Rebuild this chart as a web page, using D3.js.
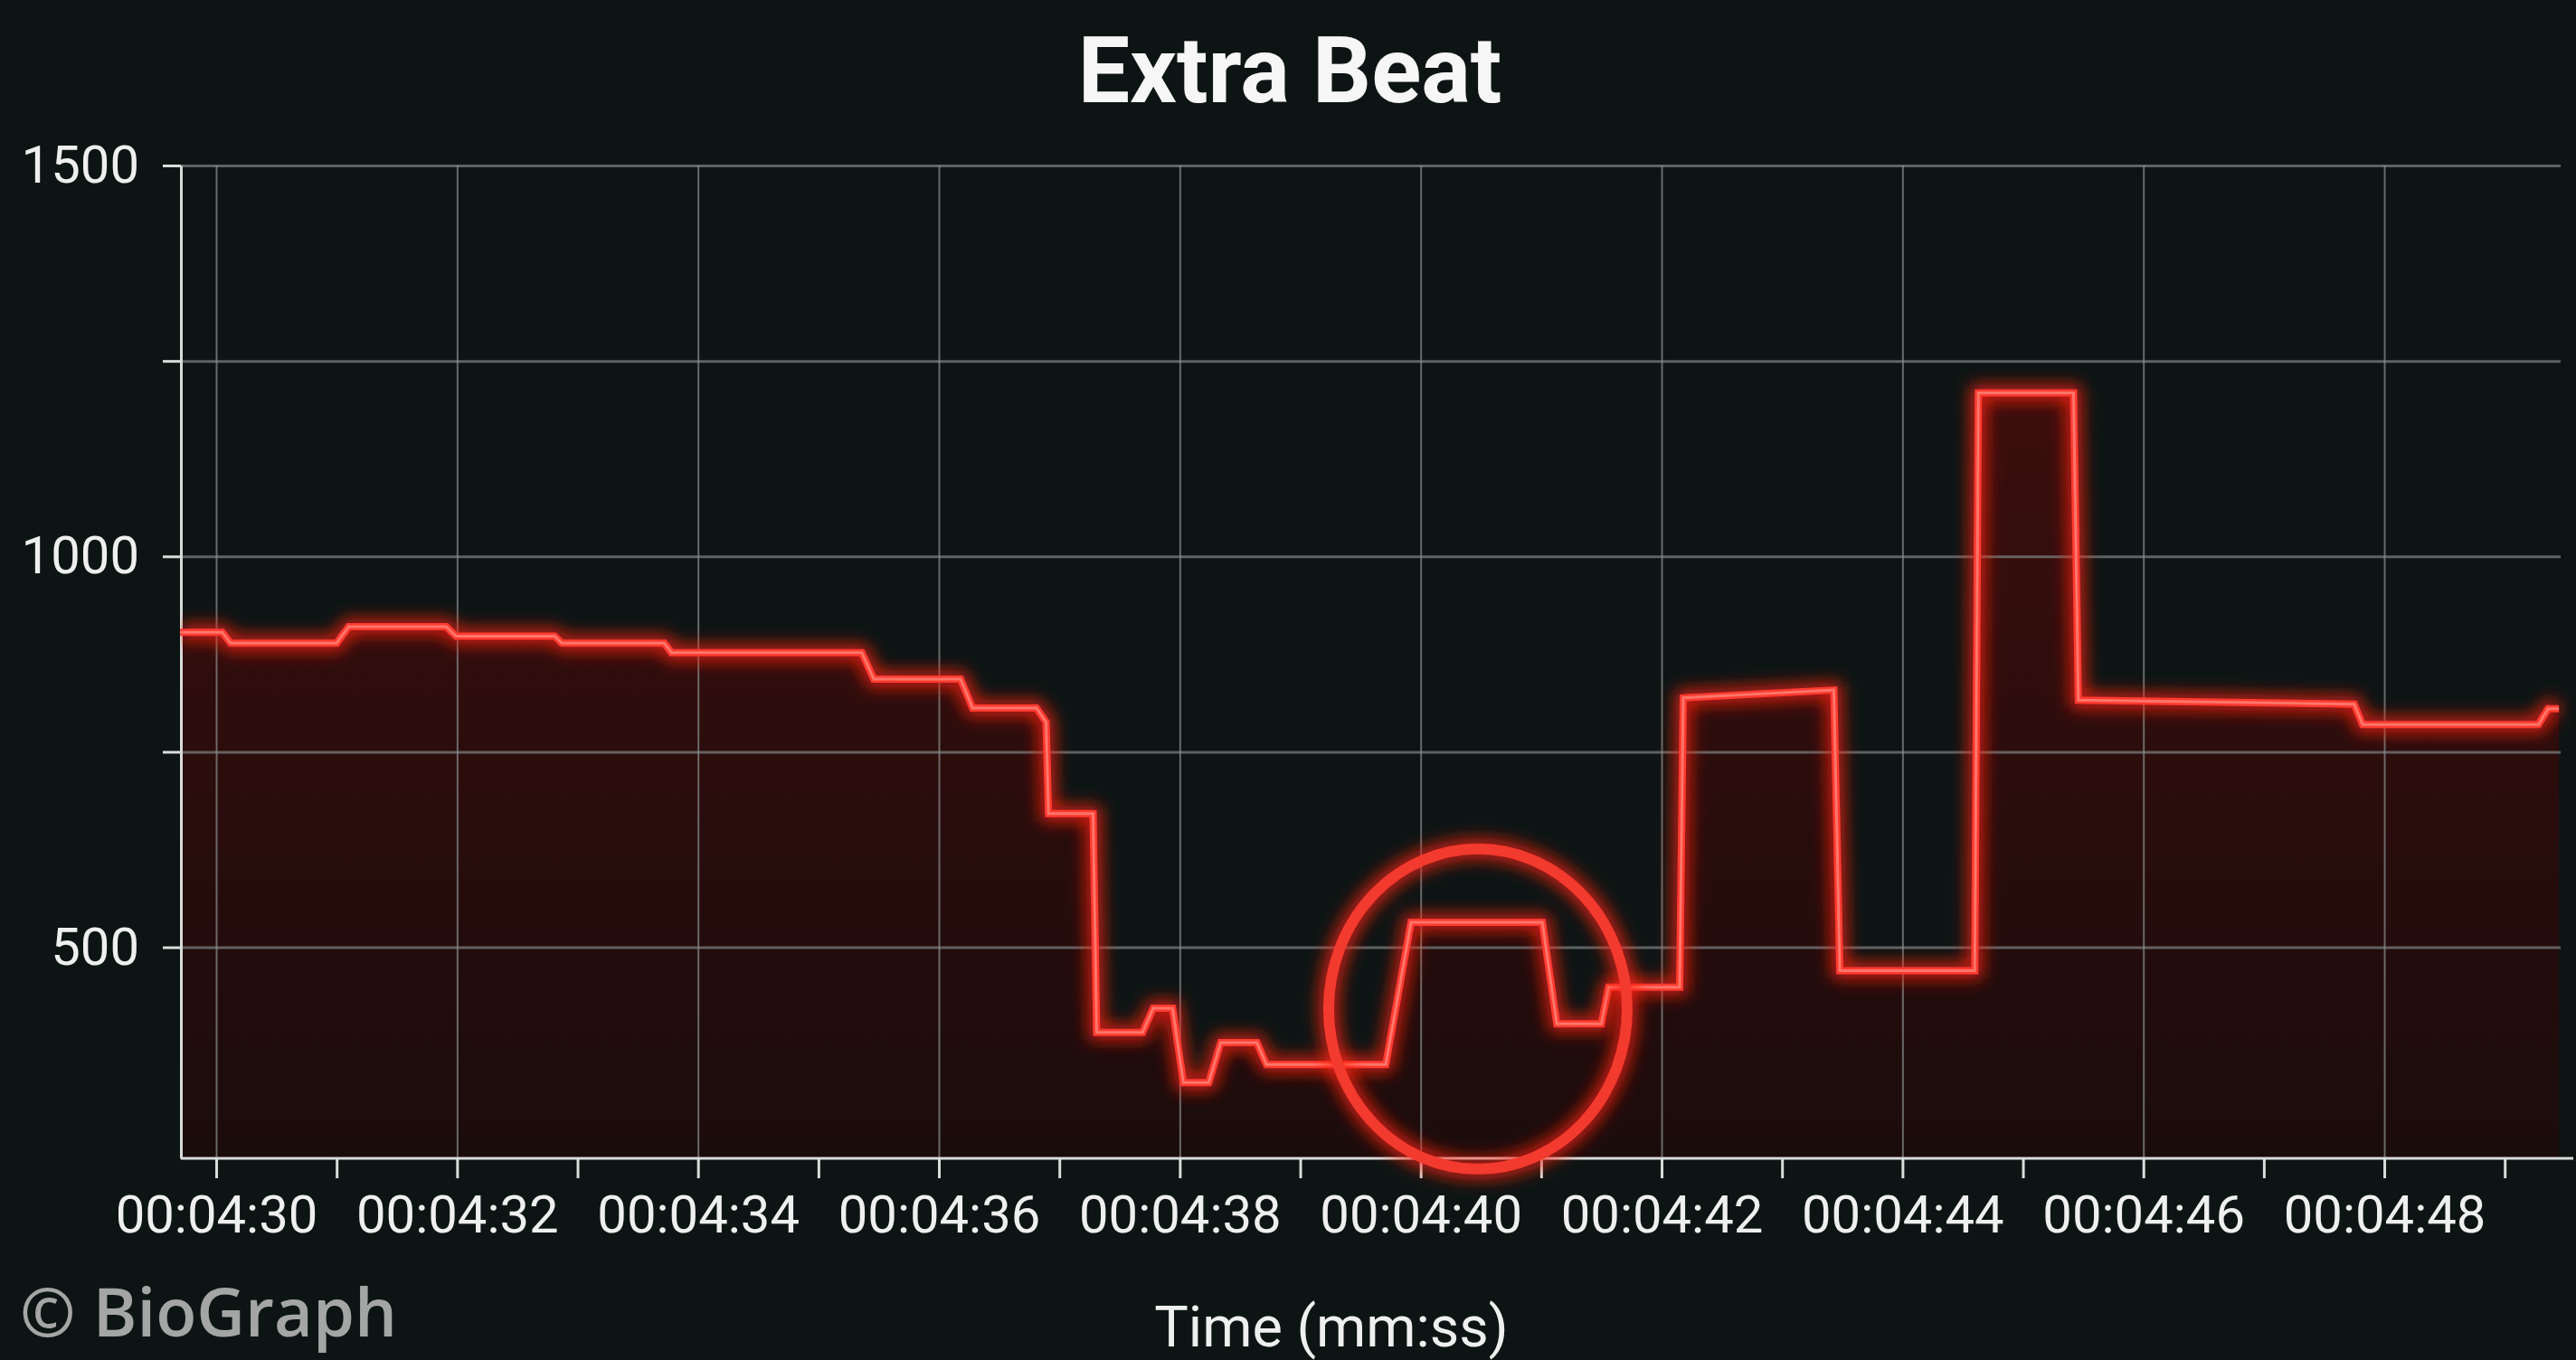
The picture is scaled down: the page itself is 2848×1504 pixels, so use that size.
<!DOCTYPE html>
<html>
<head>
<meta charset="utf-8">
<script src="https://cdn.jsdelivr.net/npm/d3@7"></script>
<style>
  html, body { margin: 0; padding: 0; background: #0b1513; }
  svg { display: block; }
</style>
</head>
<body>
<div id="chart"></div>
<script>
// RR trace: vertex times (seconds inside minute 00:04) and values
const times = [29.70, 30.05, 30.12, 31.00, 31.10, 31.91, 31.99, 32.81, 32.87, 33.72,
  33.78, 35.36, 35.46, 36.18, 36.28, 36.81, 36.89, 36.91, 37.28, 37.31,
  37.69, 37.78, 37.94, 38.03, 38.24, 38.34, 38.64, 38.72, 39.71, 39.92,
  41.01, 41.13, 41.50, 41.56, 42.15, 42.18, 43.43, 43.48, 44.60, 44.63,
  45.42, 45.46, 47.75, 47.82, 49.28, 49.36, 49.45];
const rrValues = [903, 903, 889, 889, 910, 910, 898, 898, 889, 889,
  877, 877, 843, 843, 806, 806, 788, 671, 671, 391,
  391, 422, 422, 327, 327, 378, 378, 350, 350, 532,
  532, 402, 402, 449, 449, 819, 829, 470, 470, 1209,
  1209, 816, 811, 785, 785, 805, 805];

const xTicks = d3.range(30, 50);
const xGridTicks = d3.range(30, 50, 2);
const yTicks = [500, 750, 1000, 1250, 1500];
const yLabels = [500, 1000, 1500];

// highlighted extra beat (centre in data units)
const marker = { t: 40.475, v: 421 };

const W = 2848, H = 1504;
const margin = { top: 183, right: 17, bottom: 223, left: 200 };
const width = W - margin.left - margin.right;
const height = H - margin.top - margin.bottom;

const svg = d3.select("#chart").append("svg")
    .attr("width", W)
    .attr("height", H);

svg.append("rect").attr("width", W).attr("height", H).attr("fill", "#0c1514");

const defs = svg.append("defs");
const glow = defs.append("filter")
    .attr("id", "glow")
    .attr("filterUnits", "userSpaceOnUse")
    .attr("x", 0).attr("y", 0).attr("width", W).attr("height", H);
glow.append("feGaussianBlur").attr("stdDeviation", 9);

const grad = defs.append("linearGradient")
    .attr("id", "fillGrad")
    .attr("x1", 0).attr("y1", 0).attr("x2", 0).attr("y2", 1);
grad.append("stop").attr("offset", "0%").attr("stop-color", "#3b0e0d");
grad.append("stop").attr("offset", "100%").attr("stop-color", "#1a0c0b");

const g = svg.append("g")
    .attr("transform", "translate(" + margin.left + "," + margin.top + ")");

const x = d3.scaleLinear().domain([29.707, 49.464]).range([0, width]);
const y = d3.scaleLinear().domain([230, 1500]).range([height, 0]);

const data = times.map(function (t, i) { return { t: t, v: rrValues[i] }; });

// area under the trace
const area = d3.area()
    .x(function (d) { return x(d.t); })
    .y0(height)
    .y1(function (d) { return y(d.v); });

g.append("path")
    .datum(data)
    .attr("d", area)
    .attr("fill", "url(#fillGrad)");

// grid
g.append("g")
    .attr("class", "ygrid")
    .call(d3.axisLeft(y).tickValues(yTicks).tickSize(-width).tickFormat(""))
    .call(function (s) {
        s.select(".domain").remove();
        s.selectAll("line").attr("stroke", "#7d8584").attr("stroke-width", 3).attr("stroke-opacity", 0.7);
    });

g.append("g")
    .attr("class", "xgrid")
    .call(d3.axisBottom(x).tickValues(xGridTicks).tickSize(height).tickFormat(""))
    .call(function (s) {
        s.select(".domain").remove();
        s.selectAll("line").attr("stroke", "#8a9190").attr("stroke-width", 2).attr("stroke-opacity", 0.7);
    });

// axes
const xAxis = d3.axisBottom(x)
    .tickValues(xTicks)
    .tickSize(22)
    .tickPadding(19)
    .tickSizeOuter(0)
    .tickFormat(function (d) { return d % 2 === 0 ? "00:04:" + d3.format("02")(d) : ""; });

const yAxis = d3.axisLeft(y)
    .tickValues(yTicks)
    .tickSize(20)
    .tickPadding(26)
    .tickSizeOuter(0)
    .tickFormat(function (d) { return yLabels.indexOf(d) >= 0 ? d : ""; });

g.append("g")
    .attr("class", "xaxis")
    .attr("transform", "translate(0," + height + ")")
    .call(xAxis);

g.append("g")
    .attr("class", "yaxis")
    .call(yAxis);

g.selectAll(".xaxis .domain, .yaxis .domain")
    .attr("stroke", "#d8dcdb").attr("stroke-width", 3);
g.select(".xaxis .domain").attr("d", "M0,0H" + (width + 14));
g.selectAll(".xaxis .tick line, .yaxis .tick line")
    .attr("stroke", "#d8dcdb").attr("stroke-width", 3);
g.selectAll(".xaxis text, .yaxis text")
    .attr("fill", "#eef0ef")
    .style("font-family", "Roboto, sans-serif")
    .style("font-size", "58px");

// glowing trace
const line = d3.line()
    .x(function (d) { return x(d.t); })
    .y(function (d) { return y(d.v); });

g.append("path")
    .datum(data)
    .attr("d", line)
    .attr("fill", "none")
    .attr("stroke", "#ff1f14")
    .attr("stroke-width", 18)
    .attr("stroke-opacity", 0.8)
    .attr("filter", "url(#glow)");

g.append("path")
    .datum(data)
    .attr("d", line)
    .attr("fill", "none")
    .attr("stroke", "#ff3a30")
    .attr("stroke-width", 8)
    .attr("stroke-linejoin", "miter");

g.append("path")
    .datum(data)
    .attr("d", line)
    .attr("fill", "none")
    .attr("stroke", "#ff7569")
    .attr("stroke-width", 3);

// circle around the extra beat
g.append("ellipse")
    .attr("cx", x(marker.t))
    .attr("cy", y(marker.v))
    .attr("rx", 165).attr("ry", 177)
    .attr("fill", "none")
    .attr("stroke", "#ff2016")
    .attr("stroke-width", 24)
    .attr("stroke-opacity", 0.75)
    .attr("filter", "url(#glow)");

g.append("ellipse")
    .attr("cx", x(marker.t))
    .attr("cy", y(marker.v))
    .attr("rx", 165).attr("ry", 177)
    .attr("fill", "none")
    .attr("stroke", "#f23a2e")
    .attr("stroke-width", 12);

// titles
svg.append("text")
    .attr("x", 1426).attr("y", 113)
    .attr("text-anchor", "middle")
    .attr("fill", "#f5f6f5")
    .style("font-family", "Roboto, sans-serif")
    .style("font-weight", 700)
    .style("font-size", "102px")
    .text("Extra Beat");

svg.append("text")
    .attr("x", 1472).attr("y", 1489)
    .attr("text-anchor", "middle")
    .attr("fill", "#eef0ef")
    .style("font-family", "Roboto, sans-serif")
    .style("font-size", "63px")
    .text("Time (mm:ss)");

svg.append("text")
    .attr("x", 22).attr("y", 1478)
    .attr("fill", "#a3a6a5")
    .style("font-family", "'Open Sans', sans-serif")
    .style("font-weight", 600)
    .style("font-size", "74px")
    .text("© BioGraph");
</script>
</body>
</html>
